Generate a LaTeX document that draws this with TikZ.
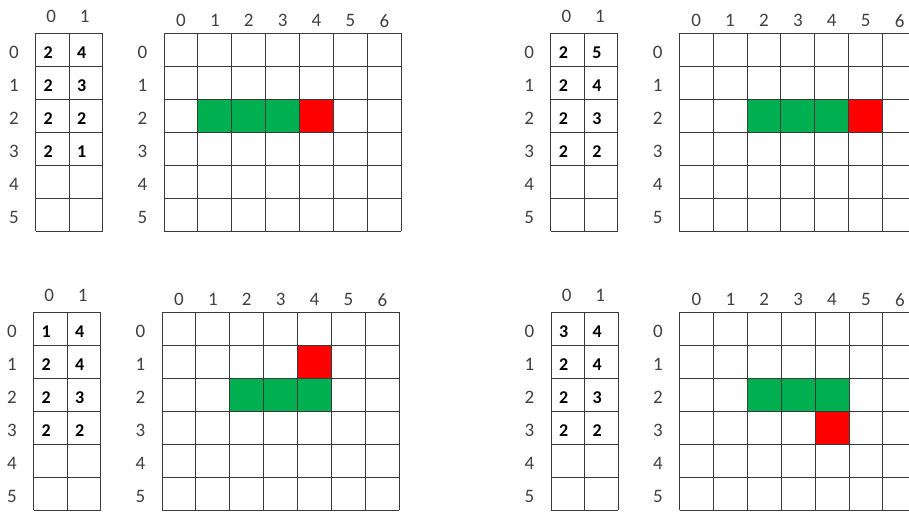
\documentclass[tikz,border=0pt]{standalone}
\usepackage{fontspec}
\setmainfont{Carlito}
\usetikzlibrary{positioning}
\definecolor{snakegreen}{HTML}{00B050}
\definecolor{foodred}{HTML}{FF0000}
\definecolor{gridline}{HTML}{3A3A3A}
\definecolor{labelgray}{HTML}{404040}

% one panel: x, y, name, table rows, snake cells, food cell
\newcommand{\boardpanel}[6]{%
  \begin{scope}[shift={(#1,#2)}]
    % snake body and food on the board
    \foreach \r/\c in {#5}
      \fill[snakegreen] ({\bx+\c*\bw},{\r*\ch}) rectangle ++(\bw,\ch);
    \foreach \r/\c in {#6}
      \fill[foodred] ({\bx+\c*\bw},{\r*\ch}) rectangle ++(\bw,\ch);
    % table lines
    \foreach \i in {0,...,2} \draw[gline] ({\i*\tw},0) -- ({\i*\tw},{6*\ch});
    \foreach \j in {0,...,6} \draw[gline] (0,{\j*\ch}) -- ({2*\tw},{\j*\ch});
    % board lines
    \foreach \i in {0,...,7} \draw[gline] ({\bx+\i*\bw},0) -- ({\bx+\i*\bw},{6*\ch});
    \foreach \j in {0,...,6} \draw[gline] (\bx,{\j*\ch}) -- ({\bx+7*\bw},{\j*\ch});
    % table entries
    \foreach \a/\b [count=\r from 0] in {#4} {
      \node[entry] (#3-t\r-0) at ({0.5*\tw-4},{(\r+0.5)*\ch+2.5}) {\a};
      \node[entry] (#3-t\r-1) at ({1.5*\tw-4},{(\r+0.5)*\ch+2.5}) {\b};
    }
    % index labels
    \foreach \i in {0,1}
      \node[idx] (#3-tc\i) at ({(\i+0.5)*\tw-1},-17) {\i};
    \foreach \i in {0,...,5}
      \node[idx] (#3-tr\i) at (-21.5,{(\i+0.5)*\ch+3}) {\i};
    \foreach \i in {0,...,6}
      \node[idx] (#3-bc\i) at ({\bx+(\i+0.5)*\bw},-12.5) {\i};
    \foreach \i in {0,...,5}
      \node[idx] (#3-br\i) at ({\bx-21.5},{(\i+0.5)*\ch+3}) {\i};
  \end{scope}
}

\begin{document}
\begin{tikzpicture}[
  x=1pt, y=-1pt,
  gline/.style={draw=gridline, line width=1pt},
  entry/.style={font=\fontsize{18}{20}\selectfont\bfseries, text=black, inner sep=0pt},
  idx/.style={font=\fontsize{19}{21}\selectfont, text=labelgray, inner sep=0pt},
]
\def\tw{33.5}   % table cell width
\def\bw{33.9}   % board cell width
\def\ch{33}     % cell height
\def\bx{128.5}  % board offset from table
\useasboundingbox (0,0) rectangle (909,511);
\clip (0,0) rectangle (909,511);

% top left
\boardpanel{35.5}{33.3}{tl}{2/4,2/3,2/2,2/1}{2/1,2/2,2/3}{2/4}
% top right
\boardpanel{550.7}{33.3}{tr}{2/5,2/4,2/3,2/2}{2/2,2/3,2/4}{2/5}
% bottom left
\boardpanel{33.5}{312.3}{bl}{1/4,2/4,2/3,2/2}{2/2,2/3,2/4}{1/4}
% bottom right
\boardpanel{551}{312.3}{br}{3/4,2/4,2/3,2/2}{2/2,2/3,2/4}{3/4}
\end{tikzpicture}
\end{document}
